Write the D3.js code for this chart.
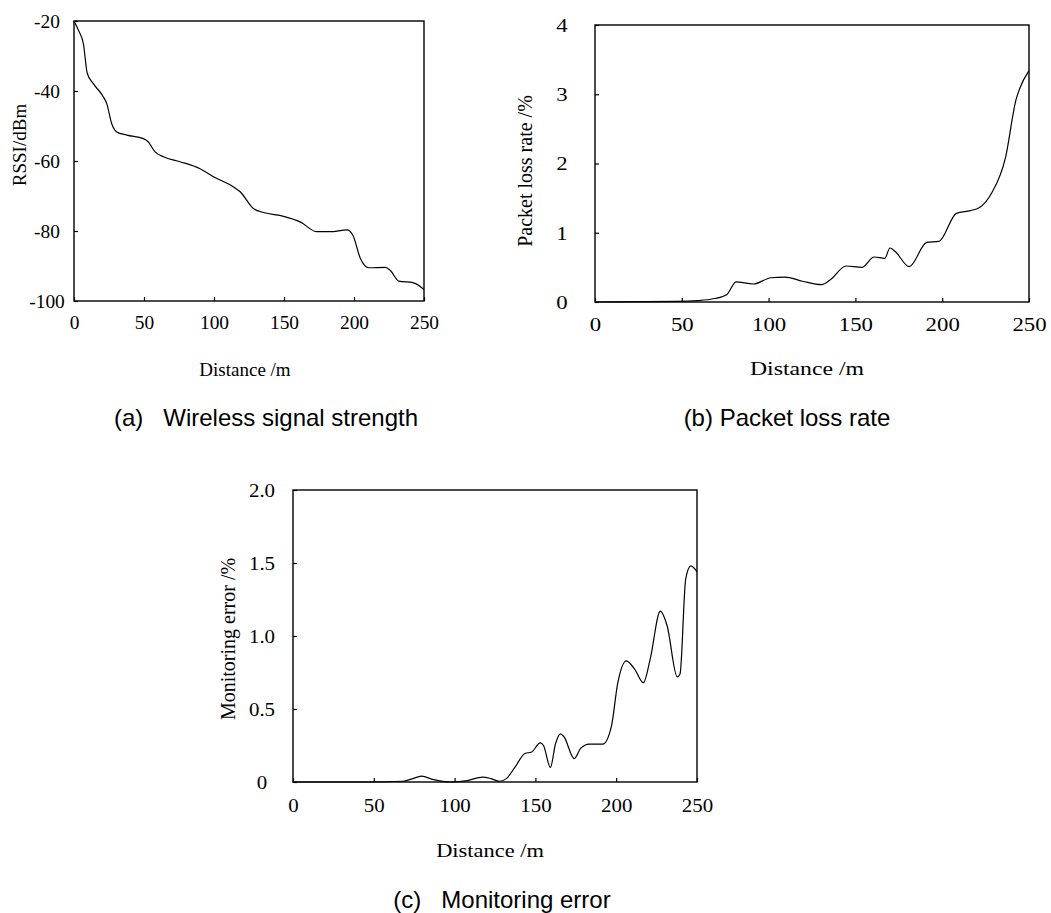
<!DOCTYPE html>
<html>
<head>
<meta charset="utf-8">
<script src="https://cdn.jsdelivr.net/npm/d3@7"></script>
<style>
  body { margin: 0; background: #fff; }
  .lbl { font-family: "Liberation Serif", "Times New Roman", serif; fill: #000; }
  .cap { font-family: "Liberation Sans", Arial, sans-serif; fill: #000; white-space: pre; }
</style>
</head>
<body>
<svg id="fig" width="1051" height="913"></svg>
<script>
// shared x ticks
const distTicks = [0, 50, 100, 150, 200, 250];

// (a) wireless signal strength
const distA = [0, 3, 6.7, 9.5, 13.8, 21, 23.4, 26.9, 30.5, 37.7, 49.6, 53, 57.9, 63.9, 75.8, 90, 99.6, 113.9, 118.7, 128.2, 135.4, 149.7, 161.6, 173.5, 183, 195, 199.2, 204.5, 210.5, 222.4, 226, 232, 242.6, 250];
const rssi  = [-20, -22.5, -26.5, -35, -37.9, -41.7, -43.6, -49.3, -51.7, -52.6, -53.6, -54.5, -57.4, -58.8, -60.2, -62.2, -64.5, -67.4, -68.8, -73.6, -74.7, -75.8, -77.4, -80.2, -80.2, -79.7, -81.2, -87.8, -90.5, -90.4, -91.3, -94.3, -94.8, -96.7];
const rssiTicks = [-100, -80, -60, -40, -20];

// (b) packet loss rate
const distB = [0, 46.8, 58.9, 69, 76, 79.1, 81.1, 91.2, 101.3, 109.4, 119.5, 130.5, 135.6, 144.6, 153.8, 160.8, 166.9, 169.9, 172.9, 181, 191.1, 198.1, 208.2, 216.3, 221.3, 228.4, 236.5, 242.5, 244.6, 250];
const lossRate = [0, 0.01, 0.02, 0.05, 0.11, 0.23, 0.29, 0.26, 0.35, 0.36, 0.30, 0.25, 0.32, 0.52, 0.50, 0.65, 0.63, 0.78, 0.73, 0.51, 0.86, 0.875, 1.28, 1.32, 1.36, 1.57, 2.09, 2.92, 3.08, 3.34];
const lossTicks = [0, 1, 2, 3, 4];

// (c) monitoring error
const distC = [0, 47, 68, 73.3, 79.6, 87, 97.4, 108, 117.3, 122.6, 127.8, 132, 137.3, 143.5, 147.7, 153, 155, 159.3, 162.4, 165.5, 167.7, 174, 178, 183.3, 191.7, 197, 201, 206.3, 211.6, 216.8, 221, 227.3, 231.5, 237.8, 239.5, 243, 246.2, 250];
const monError = [0, 0, 0.005, 0.02, 0.04, 0.016, 0, 0.01, 0.034, 0.023, 0.005, 0.023, 0.10, 0.195, 0.206, 0.268, 0.25, 0.10, 0.26, 0.33, 0.31, 0.16, 0.23, 0.26, 0.26, 0.38, 0.68, 0.83, 0.77, 0.68, 0.84, 1.17, 1.07, 0.72, 0.74, 1.39, 1.48, 1.44];
const errTicks = [0, 0.5, 1.0, 1.5, 2.0];

const svg = d3.select("#fig");
const serif = "Liberation Serif, Times New Roman, serif";

function panel(o) {
    const g = svg.append("g");
    const x = d3.scaleLinear().domain([0, 250]).range([o.left, o.right]);
    const y = d3.scaleLinear().domain(o.yDomain).range([o.bottom, o.top]);

    // axes, ticks pointing inward
    const gx = g.append("g")
        .attr("transform", `translate(0,${o.bottom})`)
        .call(d3.axisBottom(x).tickValues(distTicks).tickSizeInner(-4).tickSizeOuter(0));
    gx.selectAll("text")
        .attr("y", 0).attr("dy", 0)
        .attr("transform", `translate(0,${o.xLabOff}) scale(${o.sx},1)`);

    const gy = g.append("g")
        .attr("transform", `translate(${o.left},0)`)
        .call(d3.axisLeft(y).tickValues(o.yTicks).tickSizeInner(-4).tickSizeOuter(0).tickFormat(o.yFmt));
    gy.selectAll("text")
        .attr("x", 0).attr("dy", 0)
        .attr("text-anchor", "middle")
        .attr("transform", `translate(${-o.yLabOff},0) scale(${o.sx},1)`);

    [gx, gy].forEach(a => a.attr("font-family", serif).attr("font-size", 19));
    g.selectAll(".domain").remove();
    g.selectAll(".tick line").attr("stroke", "#000").attr("stroke-width", 1.2);
    g.selectAll(".tick text")
        .attr("dominant-baseline", "central")
        .attr("fill", "#000")
        .attr("font-family", serif);

    // frame
    g.append("rect")
        .attr("x", o.left).attr("y", o.top)
        .attr("width", o.right - o.left).attr("height", o.bottom - o.top)
        .attr("fill", "none").attr("stroke", "#000").attr("stroke-width", 1.4);

    // curve
    const line = d3.line()
        .x((d, i) => x(o.xs[i]))
        .y(d => y(d))
        .curve(d3.curveMonotoneX);
    g.append("path")
        .datum(o.ys)
        .attr("d", line)
        .attr("fill", "none")
        .attr("stroke", "#000")
        .attr("stroke-width", 1.2);

    // axis titles
    g.append("text").attr("class", "lbl")
        .attr("transform", `translate(${o.yTitle[0]},${o.yTitle[1]}) rotate(-90)`)
        .attr("text-anchor", "middle").attr("dominant-baseline", "central")
        .style("font-size", o.yTitleSize + "px")
        .text(o.yName);
    g.append("text").attr("class", "lbl")
        .attr("transform", `translate(${o.xTitle[0]},${o.xTitle[1]}) scale(${o.sxTitle},1)`)
        .attr("text-anchor", "middle").attr("dominant-baseline", "central")
        .style("font-size", "19px")
        .text("Distance /m");

    // caption
    g.append("text").attr("class", "cap")
        .attr("x", o.cap[0]).attr("y", o.cap[1])
        .attr("text-anchor", "middle").attr("dominant-baseline", "central")
        .style("font-size", "24px")
        .text(o.caption);
}

panel({
    left: 74, right: 424, top: 21, bottom: 301,
    yDomain: [-100, -20], yTicks: rssiTicks, yFmt: d => String(d),
    xs: distA, ys: rssi,
    sx: 1.02, sxTitle: 1.0, xLabOff: 22, yLabOff: 27,
    yName: "RSSI/dBm", yTitle: [19, 145], yTitleSize: 19,
    xTitle: [245, 369],
    caption: "(a)   Wireless signal strength", cap: [266, 417]
});

panel({
    left: 595, right: 1029, top: 25, bottom: 302,
    yDomain: [0, 4], yTicks: lossTicks, yFmt: d => String(d),
    xs: distB, ys: lossRate,
    sx: 1.2, sxTitle: 1.25, xLabOff: 23, yLabOff: 33,
    yName: "Packet loss rate /%", yTitle: [525, 171], yTitleSize: 20,
    xTitle: [807, 369],
    caption: "(b) Packet loss rate", cap: [787, 417]
});

panel({
    left: 293, right: 697, top: 490, bottom: 782,
    yDomain: [0, 2], yTicks: errTicks, yFmt: d => d === 0 ? "0" : d3.format(".1f")(d),
    xs: distC, ys: monError,
    sx: 1.1, sxTitle: 1.18, xLabOff: 23, yLabOff: 31,
    yName: "Monitoring error /%", yTitle: [228, 639], yTitleSize: 20,
    xTitle: [490, 850],
    caption: "(c)   Monitoring error", cap: [502, 899]
});
</script>
</body>
</html>
